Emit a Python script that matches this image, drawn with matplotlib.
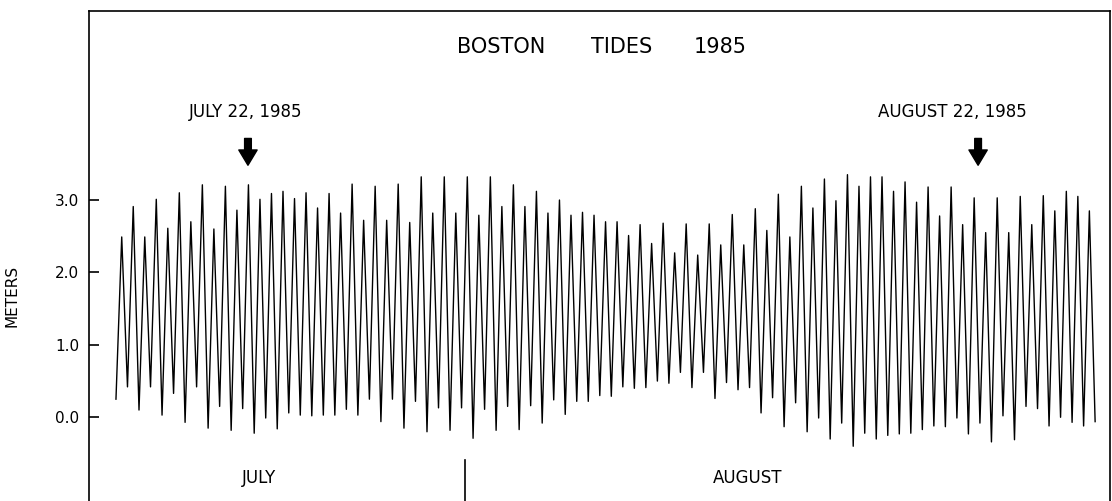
import numpy as np
import matplotlib
matplotlib.use("Agg")
import matplotlib.pyplot as plt

# high water heights (m), in order
highs = [2.49, 2.91, 2.49, 3.01, 2.61, 3.10, 2.70, 3.21, 2.60, 3.19,
         2.86, 3.21, 3.01, 3.09, 3.12, 3.02, 3.10, 2.89, 3.09, 2.82,
         3.22, 2.72, 3.19, 2.72, 3.22, 2.69, 3.32, 2.82, 3.32, 2.82,
         3.32, 2.79, 3.32, 2.91, 3.21, 2.91, 3.12, 2.82, 3.00, 2.79,
         2.83, 2.79, 2.70, 2.70, 2.51, 2.66, 2.40, 2.68, 2.27, 2.67,
         2.24, 2.67, 2.38, 2.80, 2.38, 2.88, 2.58, 3.08, 2.49, 3.19,
         2.89, 3.29, 2.99, 3.35, 3.19, 3.32, 3.32, 3.12, 3.25, 2.97,
         3.18, 2.78, 3.18, 2.66, 3.03, 2.55, 3.03, 2.55, 3.05, 2.66,
         3.06, 2.85, 3.12, 3.05, 2.85]

# low water heights (m), one before the first high and one after the last
lows = [0.25, 0.42, 0.10, 0.42, 0.03, 0.33, -0.07, 0.42, -0.15, 0.15,
        -0.18, 0.12, -0.22, -0.01, -0.16, 0.06, 0.03, 0.02, 0.03, 0.03,
        0.11, 0.03, 0.25, -0.06, 0.25, -0.15, 0.22, -0.20, 0.13, -0.18,
        0.13, -0.29, 0.11, -0.18, 0.15, -0.17, 0.16, -0.08, 0.24, 0.04,
        0.22, 0.22, 0.30, 0.29, 0.42, 0.40, 0.41, 0.50, 0.47, 0.62,
        0.41, 0.62, 0.26, 0.48, 0.38, 0.41, 0.06, 0.27, -0.13, 0.20,
        -0.20, -0.01, -0.30, -0.08, -0.40, -0.22, -0.30, -0.25, -0.23, -0.22,
        -0.17, -0.12, -0.13, -0.01, -0.23, -0.08, -0.34, 0.02, -0.31, 0.15,
        0.12, -0.12, 0.00, -0.07, -0.12, -0.06]

start_day = 15.32           # days after July 1 of the first low water
half_cycle = 12.42 / 48.0   # days between a low and the next high
month_labels = ["JULY", "AUGUST"]
marker_labels = ["JULY 22, 1985", "AUGUST 22, 1985"]
marker_days = [21.25, 54.05]

# interleave lows and highs: L0 H1 L1 H2 ... H85 L85
level = [lows[0]]
for h, l in zip(highs, lows[1:]):
    level += [h, l]
level = np.array(level)
days = start_day + half_cycle * np.arange(len(level))

plt.rcParams["font.family"] = ["DejaVu Sans"]
fig = plt.figure(figsize=(11.12, 5.01), dpi=100)
ax = fig.add_axes([89 / 1112, 0, (1110 - 89) / 1112, 1 - 11 / 501])

ax.plot(days, level, color="black", linewidth=1.0)

px_per_day = 22.26
x0 = 31 - (465 - 89) / px_per_day
x1 = 31 + (1110 - 465) / px_per_day
ax.set_xlim(x0, x1)
ax.set_ylim(-1.156, 5.61)


def px_to_day(px):
    return x0 + (px - 89) / px_per_day


ax.spines["bottom"].set_visible(False)
for s in ["left", "top", "right"]:
    ax.spines[s].set_linewidth(1.2)
ax.set_xticks([])
ax.set_yticks([0, 1, 2, 3])
ax.set_yticklabels(["0.0", "1.0", "2.0", "3.0"], fontsize=11)
ax.tick_params(axis="y", direction="in", length=7, width=1.2, pad=7)

fig.text(0.011, 1 - 296 / 501, "METERS", rotation=90, ha="center",
         va="center", fontsize=11)

# title, spread out like the original
for word, xc in zip(["BOSTON", "TIDES", "1985"], [501, 622, 720]):
    ax.text(px_to_day(xc), 5.11, word, ha="center", va="center", fontsize=15)

for lab, d, xc in zip(marker_labels, marker_days, [246, 952]):
    ax.text(px_to_day(xc), 4.22, lab, ha="center", va="center", fontsize=12)
    ax.annotate("", xy=(d, 3.48), xytext=(d, 3.85),
                arrowprops=dict(arrowstyle="simple,head_length=0.5,head_width=0.6,tail_width=0.22",
                                color="black", mutation_scale=22,
                                shrinkA=0, shrinkB=0))

# month divider and month names
ax.plot([31, 31], [-0.59, -1.156], color="black", linewidth=1.2)
ax.text(px_to_day(259), -0.84, month_labels[0], ha="center", va="center",
        fontsize=12)
ax.text(px_to_day(748), -0.84, month_labels[1], ha="center", va="center",
        fontsize=12)

fig.savefig("out.png", dpi=100)
